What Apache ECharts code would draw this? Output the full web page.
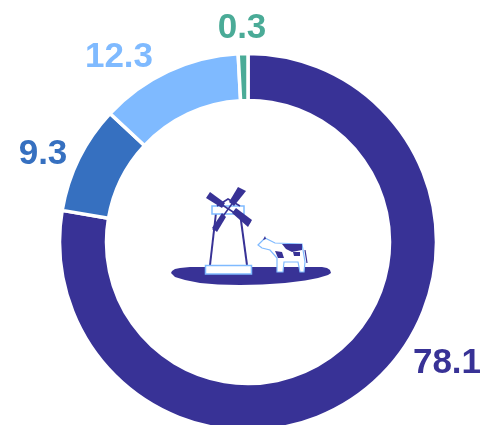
<!DOCTYPE html>
<html>
<head>
<meta charset="utf-8">
<style>
html, body { margin: 0; padding: 0; background: #fff; }
#main { width: 485px; height: 425px; }
</style>
<script src="https://cdn.jsdelivr.net/npm/echarts@6/dist/echarts.min.js"></script>
</head>
<body>
<div id="main"></div>
<script>
var values = [78.1, 9.3, 12.3, 0.3];
var colors = ['#383296', '#3670C0', '#7FBAFF', '#4AAB97'];
var labelX = [447, 43, 119, 242];
var labelY = [363, 154, 57, 28];

var navy = '#383296';
var sky = '#7FBAFF';

var myChart = echarts.init(document.getElementById('main'), null, { renderer: 'canvas' });

function line(pts, width) {
	return {
		type: 'polyline',
		shape: { points: pts },
		style: { stroke: navy, lineWidth: width, fill: null }
	};
}

function blob(pts, fill, stroke) {
	return {
		type: 'polygon',
		shape: { points: pts },
		style: { fill: fill, stroke: stroke || null, lineWidth: 1.2 }
	};
}

// windmill and cow in the hole of the ring
var icon = [
	blob([[171, 273], [172, 271], [175, 269], [180, 268], [190, 267], [322, 267], [327, 268], [330, 270], [331, 273], [328, 275], [318, 278], [305, 280.5], [285, 283], [262, 284.5], [240, 285], [218, 284.5], [200, 283], [185, 280], [175, 277]], navy),
	line([[210, 265], [216, 213]], 2),
	line([[247, 265], [240, 213]], 2),
	{
		type: 'rect',
		shape: { x: 205.5, y: 265.5, width: 46, height: 8.5 },
		style: { fill: '#fff', stroke: sky, lineWidth: 1.5 }
	},
	{
		type: 'rect',
		shape: { x: 212, y: 206, width: 32, height: 8 },
		style: { fill: '#fff', stroke: sky, lineWidth: 1.5 }
	},
	line([[217, 206], [228, 199], [240, 206]], 1.5),
	line([[210, 197], [250, 223]], 1.5),
	line([[242, 190], [213, 230]], 1.5),
	blob([[206, 198], [210, 192], [225, 203], [222, 208]], navy),
	blob([[238, 187], [246, 191], [234, 206], [229, 202]], navy),
	blob([[232, 213], [236, 208], [252, 220], [248, 227]], navy),
	blob([[212, 228], [217, 232], [226, 217], [222, 213]], navy),
	line([[305, 250], [307, 263]], 1.2),
	blob([[258, 245], [265, 238], [275, 243], [302, 244], [305, 262], [304, 272], [300, 272], [298, 262], [284, 262], [283, 272], [277, 272], [277, 258], [270, 250], [262, 248]], '#fff', sky),
	blob([[282, 244], [302, 244], [302, 250], [292, 252], [286, 249]], navy),
	blob([[275, 251], [282, 252], [284, 258], [278, 258]], navy),
	blob([[293, 252], [300, 252], [300, 256], [294, 256]], navy),
	blob([[265, 236], [266, 239], [263, 240]], navy)
];

var option = {
	animation: false,
	backgroundColor: '#fff',
	series: [{
		type: 'pie',
		center: [248, 242],
		radius: [141.5, 188.5],
		startAngle: 90,
		clockwise: true,
		minAngle: 3,
		silent: true,
		itemStyle: { borderColor: '#fff', borderWidth: 3.5 },
		label: {
			show: true,
			position: 'outside',
			formatter: function (p) { return p.value.toFixed(1); },
			fontFamily: 'Liberation Sans',
			fontWeight: 'bold',
			fontSize: 35,
			color: 'inherit',
			overflow: 'none'
		},
		labelLine: { show: false },
		labelLayout: function (p) {
			return {
				x: labelX[p.dataIndex],
				y: labelY[p.dataIndex],
				width: 120,
				align: 'center',
				verticalAlign: 'middle',
				hideOverlap: false
			};
		},
		data: values.map(function (v, i) {
			return { value: v, itemStyle: { color: colors[i] } };
		})
	}],
	graphic: [{ type: 'group', silent: true, children: icon }]
};
myChart.setOption(option);
</script>
</body>
</html>
